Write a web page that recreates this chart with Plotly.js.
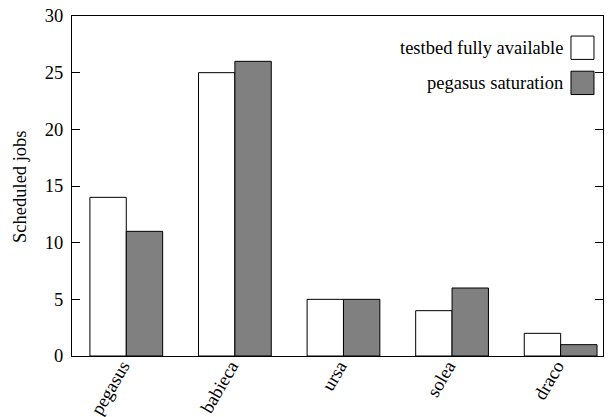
<!DOCTYPE html>
<html>
<head>
<meta charset="utf-8">
<script src="https://cdn.plot.ly/plotly-3.0.1.min.js"></script>
<style>html,body{margin:0;padding:0;background:#fff;}#chart{width:615px;height:417px;}</style>
</head>
<body>
<div id="chart"></div>
<script>
const categories = ["pegasus", "babieca", "ursa", "solea", "draco"];
const seriesNames = ["testbed fully available", "pegasus saturation"];
const fullyAvailable = [14, 25, 5, 4, 2];
const pegasusSaturation = [11, 26, 5, 6, 1];
const yTicks = [0, 5, 10, 15, 20, 25, 30];

const FONT = "Liberation Serif, serif";
const FS = 18.5;
const fills = ["#ffffff", "#808080"];

const traces = [fullyAvailable, pegasusSaturation].map((vals, i) => ({
  type: "bar",
  name: seriesNames[i],
  x: categories,
  y: vals,
  marker: {color: fills[i], line: {color: "#000", width: 1}},
  showlegend: false,
  hoverinfo: "skip"
}));

// manual legend (text right-aligned, swatch at right, like gnuplot)
const legY = [27.2, 24.1];
const annotations = seriesNames.map((n, i) => ({
  text: n, xref: "paper", yref: "y", x: 0.928, y: legY[i],
  xanchor: "right", yanchor: "middle", showarrow: false,
  font: {family: FONT, size: FS, color: "#000"}
}));
annotations.push({
  text: "Scheduled jobs", xref: "paper", yref: "paper", x: -0.098, y: 0.5,
  xanchor: "center", yanchor: "middle", showarrow: false, textangle: -90,
  font: {family: FONT, size: FS, color: "#000"}
});
const shapes = seriesNames.map((n, i) => ({
  type: "rect", xref: "paper", yref: "y",
  x0: 0.9397, x1: 0.983, y0: legY[i] - 1.03, y1: legY[i] + 1.03,
  fillcolor: fills[i], line: {color: "#000", width: 1}
}));

const layout = {
  width: 615, height: 417,
  margin: {l: 72, r: 12, t: 16, b: 61},
  paper_bgcolor: "#fff", plot_bgcolor: "#fff",
  barmode: "group", bargap: 0.33, bargroupgap: 0,
  font: {family: FONT, size: FS, color: "#000"},
  xaxis: {
    type: "category", range: [-0.5, 4.39],
    showline: true, mirror: true, linecolor: "#000", linewidth: 1,
    ticks: "", ticklen: 0, tickangle: -60, showgrid: false, zeroline: false,
    tickfont: {family: FONT, size: FS}, ticklabelstandoff: -9, ticklabelshift: -4
  },
  yaxis: {
    range: [0, 30], tickvals: yTicks, ticktext: yTicks.map(String),
    showline: true, mirror: "ticks", linecolor: "#000", linewidth: 1,
    ticks: "inside", ticklen: 8, tickcolor: "#000", showgrid: false, zeroline: false,
    tickfont: {family: FONT, size: FS}, ticklabelstandoff: 4
  },
  annotations: annotations,
  shapes: shapes
};

Plotly.newPlot("chart", traces, layout, {displayModeBar: false, staticPlot: true});
</script>
</body>
</html>
